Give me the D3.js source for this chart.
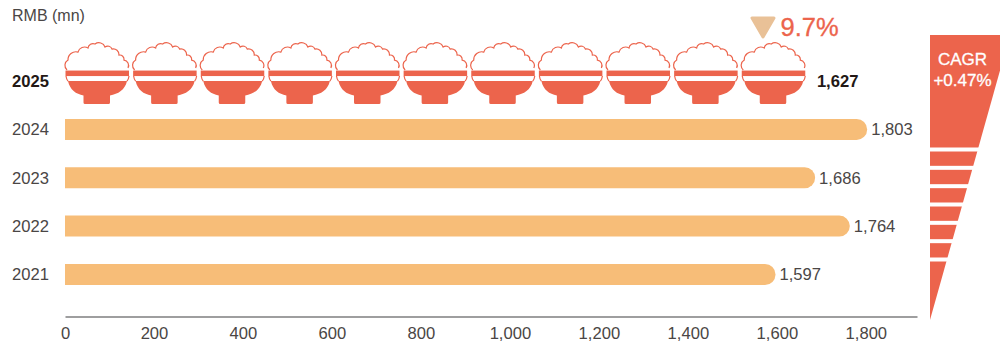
<!DOCTYPE html>
<html>
<head>
<meta charset="utf-8">
<script src="https://cdn.jsdelivr.net/npm/d3@7"></script>
<style>
  html, body { margin: 0; padding: 0; background: #fff; }
  svg { display: block; }
  text { font-family: "Liberation Sans", Arial, sans-serif; }
</style>
</head>
<body>
<svg id="chart" width="1000" height="342"></svg>
<script>
// Annual spend, RMB million
const years = ["2025", "2024", "2023", "2022", "2021"];
const values = [1627, 1803, 1686, 1764, 1597];
const axisTicks = [0, 200, 400, 600, 800, 1000, 1200, 1400, 1600, 1800];
const unitLabel = "RMB (mn)";
const changeLabel = "9.7%";
const cagrLines = ["CAGR", "+0.47%"];
const bowlUnit = 152;          // RMB mn represented by one bowl
const funnelBreaks = [0, 1, 2, 3, 4, 5, 6]; // white rules across the wedge

const RED = "#ec644c", BAR = "#f7bd78", INK = "#4a4645", DARK = "#231815", RULE = "#9e9e9f";

const svg = d3.select("#chart");
const x = d3.scaleLinear().domain([0, 1915]).range([65, 917]);
const y = d3.scaleBand().domain(years).range([57, 298.5]).paddingInner(0.565).paddingOuter(0.28);

// Unit label
svg.append("text").attr("x", 12).attr("y", 21).attr("font-size", 16)
  .attr("fill", INK).text(unitLabel);

// Value axis
const axis = svg.append("g").attr("transform", "translate(0,316.5)")
  .call(d3.axisBottom(x).tickValues(axisTicks).tickSize(0).tickPadding(11).tickFormat(d3.format(",")));
axis.select(".domain").attr("stroke", RULE).attr("stroke-width", 2);
axis.selectAll("text").attr("font-size", 16.6).attr("fill", INK)
  .attr("font-family", '"Liberation Sans", Arial, sans-serif');

// Year labels
svg.append("g").selectAll("text").data(years).join("text")
  .attr("x", 12).attr("y", d => y(d) + y.bandwidth() / 2 + 6)
  .attr("font-size", 16.6).attr("fill", d => d === "2025" ? DARK : INK)
  .attr("font-weight", d => d === "2025" ? 700 : 400)
  .text(d => d);

// History bars: square at the axis, rounded at the value end
const rows = years.map((year, i) => ({ year, value: values[i] }));
const r = y.bandwidth() / 2;
svg.append("g").selectAll("path").data(rows.slice(1)).join("path")
  .attr("fill", BAR)
  .attr("d", d => {
    const x0 = x(0), x1 = x(d.value), t = y(d.year), h = y.bandwidth();
    return `M${x0},${t}H${x1 - r}A${r},${r} 0 0 1 ${x1 - r},${t + h}H${x0}Z`;
  });

// Value labels
svg.append("g").selectAll("text").data(rows).join("text")
  .attr("x", d => d.year === "2025" ? x(bowlUnit * Math.ceil(d.value / bowlUnit)) + 8 : x(d.value) + 4)
  .attr("y", d => y(d.year) + y.bandwidth() / 2 + 6)
  .attr("font-size", 16.6).attr("fill", d => d.year === "2025" ? DARK : INK)
  .attr("font-weight", d => d.year === "2025" ? 700 : 400)
  .text(d => d3.format(",")(d.value));

// Rice bowl pictogram for the current year
const riceEdge = [[2,26],[3,16],[13,8],[23,4],[30,0],[40,3],[47,5],[54,11],[59,16],[63,24]];
const ricePath = riceEdge.reduce((p, c, i) => {
  if (!i) return `M${c}`;
  const prev = riceEdge[i - 1];
  const rad = Math.hypot(c[0] - prev[0], c[1] - prev[1]) * 0.62;
  return `${p}A${rad},${rad} 0 0 1 ${c[0]},${c[1]}`;
}, "");
const bowlBody = "M3,37H62C60,46 53,50 45,51.5V58.5Q45,60 43.5,60H20Q18.5,60 18.5,58.5V51.5C11,50 5,46 3,37Z";

const current = rows[0];
const bowlCount = d3.range(Math.ceil(current.value / bowlUnit));
const bowls = svg.append("g").selectAll("g").data(bowlCount).join("g")
  .attr("transform", d => `translate(${x(d * bowlUnit)},${y(current.year) + y.bandwidth() / 2 - 37})`);
bowls.append("path").attr("d", ricePath).attr("fill", "none").attr("stroke", RED).attr("stroke-width", 1.2);
bowls.append("rect").attr("x", 0.5).attr("y", 26.5).attr("width", 63.5).attr("height", 5.5).attr("fill", RED);
bowls.append("path").attr("d", "M1,32Q1.3,35 3,37M64,32Q63.7,35 62,37").attr("fill", "none")
  .attr("stroke", RED).attr("stroke-width", 1.2);
bowls.append("path").attr("d", bowlBody).attr("fill", RED);

// Year-on-year change marker
svg.append("path").attr("d", "M752,18H774L763,37Z").attr("fill", "#e9c197")
  .attr("stroke", "#e9c197").attr("stroke-width", 3).attr("stroke-linejoin", "round");
svg.append("text").attr("x", 780.5).attr("y", 35.5).attr("font-size", 25.5).attr("fill", RED)
  .attr("stroke", RED).attr("stroke-width", 0.3).text(changeLabel);

// CAGR wedge narrowing to a point at the axis
const wedgeY = d3.scaleLinear().domain([0, 6]).range([149.5, 259.5]);
const wedge = [[930, 35], [1010, 35], [930, 320]];
svg.append("path").attr("d", d3.line()(wedge) + "Z").attr("fill", RED);
svg.append("g").selectAll("rect").data(funnelBreaks).join("rect")
  .attr("x", 930).attr("width", 70).attr("y", d => wedgeY(d) - 2).attr("height", 4).attr("fill", "#fff");
svg.append("g").selectAll("text").data(cagrLines).join("text")
  .attr("x", 962.5).attr("y", (d, i) => 65 + i * 21)
  .attr("text-anchor", "middle").attr("font-size", 17).attr("fill", "#fff")
  .attr("stroke", "#fff").attr("stroke-width", 0.3).text(d => d);
</script>
</body>
</html>
